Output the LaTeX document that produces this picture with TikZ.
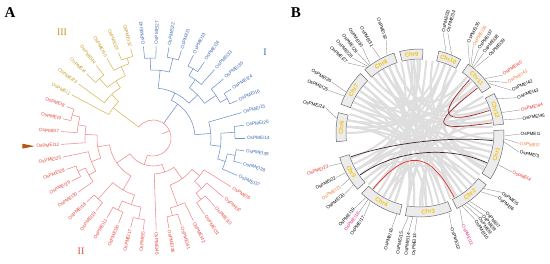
\documentclass[tikz,border=0pt]{standalone}
\usepackage{fontspec}
\setmainfont{Liberation Sans}
\newfontfamily\romanfont{Liberation Serif}
\usetikzlibrary{calc}

\definecolor{cladeI}{HTML}{3A6AB0}
\definecolor{cladeIline}{HTML}{6E93C8}
\definecolor{cladeII}{HTML}{E8453C}
\definecolor{cladeIIline}{HTML}{F08A8A}
\definecolor{cladeIII}{HTML}{C29A1E}
\definecolor{cladeIIIline}{HTML}{D8B858}
\definecolor{arrowbrown}{HTML}{B5550F}
\definecolor{chrgold}{HTML}{F5C414}
\definecolor{boxgray}{HTML}{ECECEC}
\definecolor{genered}{HTML}{E8302A}
\definecolor{geneorange}{HTML}{F07E3C}
\definecolor{genepink}{HTML}{E3208C}
\definecolor{darklink}{HTML}{9E2A2A}
\definecolor{blacklink}{HTML}{3C2424}

\tikzset{
  leaf/.style={font=\fontsize{4.7}{5}\selectfont, inner sep=0.3pt},
  gene/.style={font=\fontsize{4.6}{5}\selectfont, inner sep=0.5pt},
  chrbox/.style={draw=gray!85!black, fill=boxgray, line width=0.5pt},
  chrname/.style={font=\fontsize{6}{6}\selectfont\bfseries, text=chrgold, inner sep=0pt},
  lead/.style={draw=gray, line width=0.3pt},
  synteny/.style={draw=black!13, line width=2pt},
  branch/.style={line width=0.55pt},
  panel/.style={font=\romanfont\bfseries\fontsize{15}{15}\selectfont, inner sep=0pt},
  group/.style={font=\romanfont\fontsize{10}{10}\selectfont, inner sep=0pt},
}

% radial branch and arc of a clade
\newcommand{\rbr}[3]{\draw (#1:#2) -- (#1:#3);}
\newcommand{\carc}[3]{\draw (#2:#1) arc[start angle=#2, end angle=#3, radius=#1pt];}

\begin{document}
\begin{tikzpicture}[x=1pt, y=1pt]
\fill[white] (0,0) rectangle (550,264);
\useasboundingbox (0,0) rectangle (550,264);

% panel letters
\node[panel] (labA) at (10,251) {A};
\node[panel] (labB) at (296,251) {B};

% ---------- A: tree ----------
\begin{scope}[shift={(153,126)}, rotate=4, branch]
  % clade I
  \begin{scope}[cladeIline]
    \carc{80}{84}{92} \rbr{92}{80}{92} \rbr{84}{80}{92}
    \carc{82}{68}{76} \rbr{76}{82}{92} \rbr{68}{82}{92}
    \carc{68}{72}{88} \rbr{88}{68}{80} \rbr{72}{68}{82}
    \carc{80}{52}{60} \rbr{60}{80}{92} \rbr{52}{80}{92}
    \carc{72}{44}{56} \rbr{56}{72}{80} \rbr{44}{72}{92}
    \carc{84}{20}{28} \rbr{28}{84}{92} \rbr{20}{84}{92}
    \carc{76}{24}{36} \rbr{36}{76}{92} \rbr{24}{76}{84}
    \carc{62}{30}{50} \rbr{50}{62}{72} \rbr{30}{62}{76}
    \carc{50}{40}{80} \rbr{80}{50}{68} \rbr{40}{50}{62}
    \carc{82}{-4}{4} \rbr{4}{82}{92} \rbr{-4}{82}{92}
    \carc{84}{-20}{-12} \rbr{-12}{84}{92} \rbr{-20}{84}{92}
    \carc{76}{-28}{-16} \rbr{-16}{76}{84} \rbr{-28}{76}{92}
    \carc{68}{-22}{0} \rbr{0}{68}{82} \rbr{-22}{68}{76}
    \carc{58}{-11}{12} \rbr{12}{58}{92} \rbr{-11}{58}{68}
    \carc{42}{0.5}{60} \rbr{60}{42}{50} \rbr{0.5}{42}{58}
    \rbr{50}{18}{42}
  \end{scope}
  % clade II
  \begin{scope}[cladeIIline]
    \carc{78}{-60}{-52} \rbr{-52}{78}{92} \rbr{-60}{78}{92}
    \carc{70}{-56}{-44} \rbr{-44}{70}{92} \rbr{-56}{70}{78}
    \carc{60}{-50}{-36} \rbr{-36}{60}{92} \rbr{-50}{60}{70}
    \carc{80}{-84}{-76} \rbr{-76}{80}{92} \rbr{-84}{80}{92}
    \carc{72}{-80}{-68} \rbr{-68}{72}{92} \rbr{-80}{72}{80}
    \carc{50}{-74}{-43} \rbr{-43}{50}{60} \rbr{-74}{50}{72}
    \carc{36}{-92}{-58.5} \rbr{-92}{36}{92} \rbr{-58.5}{36}{50}
    \carc{82}{-108}{-100} \rbr{-100}{82}{92} \rbr{-108}{82}{92}
    \carc{80}{-124}{-116} \rbr{-116}{80}{92} \rbr{-124}{80}{92}
    \carc{70}{-120}{-104} \rbr{-104}{70}{82} \rbr{-120}{70}{80}
    \carc{82}{-140}{-132} \rbr{-132}{82}{92} \rbr{-140}{82}{92}
    \carc{60}{-136}{-112} \rbr{-112}{60}{70} \rbr{-136}{60}{82}
    \carc{82}{-164}{-156} \rbr{-156}{82}{92} \rbr{-164}{82}{92}
    \carc{74}{-160}{-148} \rbr{-148}{74}{92} \rbr{-160}{74}{82}
    \carc{66}{-172}{-154} \rbr{-172}{66}{92} \rbr{-154}{66}{74}
    \carc{84}{-204}{-196} \rbr{-196}{84}{92} \rbr{-204}{84}{92}
    \carc{76}{-200}{-188} \rbr{-188}{76}{92} \rbr{-200}{76}{84}
    \carc{68}{-194}{-180} \rbr{-180}{68}{92} \rbr{-194}{68}{76}
    \carc{56}{-187}{-163} \rbr{-163}{56}{66} \rbr{-187}{56}{68}
    \carc{44}{-175}{-124} \rbr{-124}{44}{60} \rbr{-175}{44}{56}
    \carc{28}{-149.5}{-75} \rbr{-75}{28}{36} \rbr{-149.5}{28}{44}
    \rbr{-112.25}{18}{28}
    % root
    \carc{18}{-112.25}{138.75}
    \rbr{20}{10}{18}
  \end{scope}
  % clade III
  \begin{scope}[cladeIIIline]
    \carc{84}{100}{108} \rbr{108}{84}{92} \rbr{100}{84}{92}
    \carc{78}{104}{116} \rbr{116}{78}{92} \rbr{104}{78}{84}
    \carc{80}{124}{132} \rbr{132}{80}{92} \rbr{124}{80}{92}
    \carc{68}{110}{128} \rbr{110}{68}{78} \rbr{128}{68}{80}
    \carc{60}{119}{140} \rbr{140}{60}{92} \rbr{119}{60}{68}
    \carc{50}{129.5}{148} \rbr{148}{50}{92} \rbr{129.5}{50}{60}
    \rbr{138.75}{18}{50}
  \end{scope}

  % leaf names
  \foreach \a/\n in {92/43, 84/27, 76/22, 68/3, 60/13, 52/34, 44/33, 36/35, 28/24,
                     20/16, 12/15, 4/26, -4/14, -12/39, -20/38, -28/37}
    \node[leaf, text=cladeI, anchor=west, rotate=\a+4] (t\n) at (\a:93.5) {OsPMEI\n};
  \foreach \a/\n in {-36/6, -44/2, -52/10, -60/31, -68/42, -76/41, -84/36, -92/45}
    \node[leaf, text=cladeII, anchor=west, rotate=\a+4] (t\n) at (\a:93.5) {OsPMEI\n};
  \foreach \a/\n in {-100/5, -108/17, -116/20, -124/11, -132/19, -140/18, -148/30,
                     -156/29, -164/28, -172/25, -180/12, -188/7, -196/9, -204/8}
    \node[leaf, text=cladeII, anchor=east, rotate=\a+184] (t\n) at (\a:93.5) {OsPMEI\n};
  \foreach \a/\n in {148/1, 140/23, 132/4, 124/44, 116/40, 108/21, 100/32}
    \node[leaf, text=cladeIII, anchor=east, rotate=\a-176] (t\n) at (\a:93.5) {OsPMEI\n};
\end{scope}

% marker on OsPMEI12
\fill[arrowbrown] ($(t12.west)+(-1.5,0)$) -- ++(-12,2.4) -- ++(0,-4.8) -- cycle;

% group numerals
\node[group, text=cladeIII] (grIII) at (62,232) {III};
\node[group, text=cladeI] (grI) at (265,212) {I};
\node[group, text=cladeII] (grII) at (81,13) {II};

% ---------- B: circos ----------
\begin{scope}[shift={(420,131)}]
  % synteny background
  \foreach \a/\b in {-10/150, -20/-150, -28/120, -5/95, 0/-90, -40/170, -50/140,
                     -60/100, -62/-120, -75/125, -85/175, -95/-140, -110/115,
                     -120/70, -130/-15, -145/45, -150/20, -160/90, 170/40, 175/-45,
                     180/70, 155/-25, 140/-80, 145/10, 125/-55, 115/-100, 110/50,
                     100/-70, 92/-125, 97/150, 70/-150, 65/-30, 75/130, 45/-100,
                     50/-130, 40/175, 20/-65, 15/160, 25/110, 10/-115, -30/65,
                     -45/115, -88/40, -100/60, -15/135, -25/80, -55/160, -70/145,
                     -115/95, -135/30, -155/60, 165/-60, 150/-100, 130/20, 120/-35,
                     105/-150, 85/-110, 60/-85, 30/-140, 5/120}
    \draw[synteny] (\a:73) .. controls (\a:25) and (\b:25) .. (\b:73);

  % segmental duplications
  \draw[darklink, line width=0.7pt] (47:73) .. controls (47:22) and (18:25) .. (18:73);
  \draw[darklink, line width=0.7pt] (38:73) .. controls (38:8) and (8:15) .. (8:73);
  \draw[blacklink, line width=0.7pt] (-161:73) .. controls (-161:30) and (-6:30) .. (-6:73);
  \draw[blacklink, line width=0.7pt] (-145:73) .. controls (-145:30) and (-24:30) .. (-24:73);
  \draw[genered, line width=0.7pt] (-130:73) .. controls (-130:20) and (-62:20) .. (-62:73);

  % chromosomes
  \foreach \n/\a/\b in {1/2/-33, 2/-38/-64, 3/-68/-100, 4/-104/-134, 5/-138/-163,
                        6/186/166, 7/160/135, 8/131/108, 9/104/88, 10/77/61,
                        11/55/33, 12/28/6}{
    \draw[chrbox] (\a:74) arc[start angle=\a, end angle=\b, radius=74pt]
      -- (\b:84) arc[start angle=\b, end angle=\a, radius=84pt] -- cycle;
    \pgfmathsetmacro\m{(\a+\b)/2}
    \pgfmathsetmacro\rt{ifthenelse(sin(\m)>0, \m-90, \m+90)}
    \node[chrname, rotate=\rt] (chr\n) at (\m:79) {Chr\n};
  }

  % gene positions
  \foreach \g/\a/\b/\r/\c in {1/-2/-0.6/100/black, 2/-4/-6/100/geneorange,
      3/-6/-11/101/black, 4/-22/-23/100/genered, 5/-41/-36/101/black,
      6/-44/-39.5/101/black, 7/-54/-50/103/black, 8/-56/-52.5/103/black,
      9/-58/-55/103/black, 10/-60/-57.5/103/black, 11/-62/-65/101/genepink,
      12/-70/-71.5/100/black, 13/-92/-93/100/black, 14/-95/-96.5/100/black,
      15/-98/-100.5/100/black, 16/-106/-106.5/99/black, 17/-126/-124/100/black,
      18/-128/-127.5/100/genepink, 19/-130/-131/100/black, 20/-142/-141/97/black,
      21/-147/-146/95/geneorange, 22/-152/-152/95/black, 23/-159/-160/97/genered,
      24/170/165/98/black, 25/154/155/101/black, 26/151/150/102/black,
      27/129/136/101/black, 28/128/132/101/black, 29/127/128/102/black,
      30/126/124/103/black, 31/118/119/98/black, 32/113/110/99/black,
      33/72/77/103/black, 34/68/74.5/104/black, 35/54/62/102/black,
      36/53/58.5/102/geneorange, 37/52/55/102/black, 38/51/51.5/102/black,
      39/50/48/103/black, 40/40/35/101/genered, 41/38/30/101/geneorange,
      42/36/25/101/black, 43/24/20/103/black, 44/14/13/103/genered,
      45/9/8/103/black}{
    \coordinate (q\g) at (\b:\r);
    \draw[lead] (\a:84.5) -- (q\g);
    \pgfmathtruncatemacro\rside{cos(\b)>0}
    \ifnum\rside=1
      \node[gene, text=\c, anchor=west, rotate=\b] (p\g) at (q\g) {OsPMEI\g};
    \else
      \node[gene, text=\c, anchor=east, rotate=\b+180] (p\g) at (q\g) {OsPMEI\g};
    \fi
  }
\end{scope}
\end{tikzpicture}
\end{document}
